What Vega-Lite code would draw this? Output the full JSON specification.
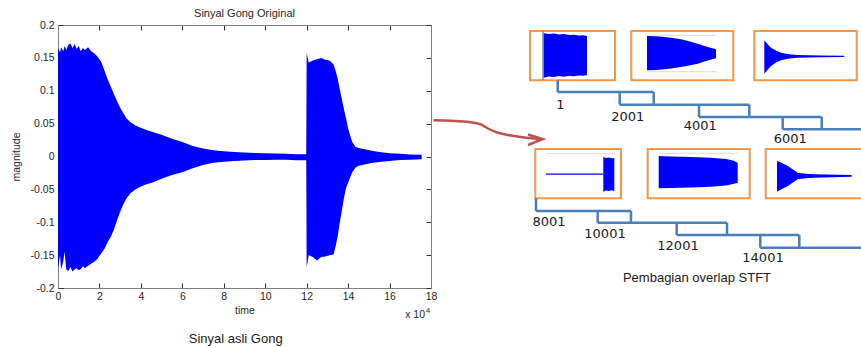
{
  "$schema": "https://vega.github.io/schema/vega-lite/v6.json",
  "background": "white",
  "padding": {"left": 11, "top": 8, "right": 0, "bottom": 0},
  "spacing": -12,
  "config": {"view": {"stroke": null}, "font": "Liberation Sans"},
  "datasets": {
    "sig": [
      {"t": 0.0, "hi": 0.165, "lo": -0.17},
      {"t": 0.1, "hi": 0.158, "lo": -0.15},
      {"t": 0.15, "hi": 0.166, "lo": -0.172},
      {"t": 0.25, "hi": 0.16, "lo": -0.16},
      {"t": 0.32, "hi": 0.168, "lo": -0.145},
      {"t": 0.4, "hi": 0.162, "lo": -0.172},
      {"t": 0.5, "hi": 0.17, "lo": -0.174},
      {"t": 0.6, "hi": 0.172, "lo": -0.168},
      {"t": 0.7, "hi": 0.165, "lo": -0.175},
      {"t": 0.8, "hi": 0.171, "lo": -0.172},
      {"t": 0.9, "hi": 0.164, "lo": -0.17},
      {"t": 1.0, "hi": 0.168, "lo": -0.173},
      {"t": 1.1, "hi": 0.16, "lo": -0.171},
      {"t": 1.2, "hi": 0.165, "lo": -0.167},
      {"t": 1.3, "hi": 0.162, "lo": -0.17},
      {"t": 1.45, "hi": 0.166, "lo": -0.166},
      {"t": 1.6, "hi": 0.16, "lo": -0.163},
      {"t": 1.75, "hi": 0.157, "lo": -0.16},
      {"t": 1.9, "hi": 0.152, "lo": -0.156},
      {"t": 2.0, "hi": 0.148, "lo": -0.151},
      {"t": 2.1, "hi": 0.143, "lo": -0.147},
      {"t": 2.25, "hi": 0.13, "lo": -0.14},
      {"t": 2.4, "hi": 0.117, "lo": -0.13},
      {"t": 2.55, "hi": 0.106, "lo": -0.122},
      {"t": 2.7, "hi": 0.095, "lo": -0.111},
      {"t": 2.85, "hi": 0.084, "lo": -0.097},
      {"t": 3.0, "hi": 0.074, "lo": -0.084},
      {"t": 3.15, "hi": 0.066, "lo": -0.073},
      {"t": 3.3, "hi": 0.058, "lo": -0.064},
      {"t": 3.5, "hi": 0.052, "lo": -0.056},
      {"t": 3.7, "hi": 0.048, "lo": -0.051},
      {"t": 3.9, "hi": 0.045, "lo": -0.047},
      {"t": 4.2, "hi": 0.041, "lo": -0.043},
      {"t": 4.6, "hi": 0.037, "lo": -0.039},
      {"t": 5.0, "hi": 0.033, "lo": -0.034},
      {"t": 5.5, "hi": 0.027, "lo": -0.028},
      {"t": 6.0, "hi": 0.022, "lo": -0.024},
      {"t": 6.5, "hi": 0.016, "lo": -0.018},
      {"t": 7.0, "hi": 0.012, "lo": -0.013},
      {"t": 7.5, "hi": 0.0095, "lo": -0.0095},
      {"t": 8.0, "hi": 0.008, "lo": -0.008},
      {"t": 8.5, "hi": 0.0068, "lo": -0.007},
      {"t": 9.0, "hi": 0.006, "lo": -0.006},
      {"t": 9.5, "hi": 0.0052, "lo": -0.0055},
      {"t": 10.0, "hi": 0.0048, "lo": -0.0052},
      {"t": 10.5, "hi": 0.0044, "lo": -0.0049},
      {"t": 11.0, "hi": 0.004, "lo": -0.005},
      {"t": 11.5, "hi": 0.0036, "lo": -0.0056},
      {"t": 11.98, "hi": 0.0033, "lo": -0.0058},
      {"t": 12.0, "hi": 0.158, "lo": -0.168},
      {"t": 12.05, "hi": 0.15, "lo": -0.16},
      {"t": 12.1, "hi": 0.143, "lo": -0.15},
      {"t": 12.3, "hi": 0.146, "lo": -0.153},
      {"t": 12.5, "hi": 0.148, "lo": -0.158},
      {"t": 12.7, "hi": 0.15, "lo": -0.153},
      {"t": 12.9, "hi": 0.147, "lo": -0.152},
      {"t": 13.1, "hi": 0.146, "lo": -0.15},
      {"t": 13.3, "hi": 0.14, "lo": -0.149},
      {"t": 13.4, "hi": 0.13, "lo": -0.136},
      {"t": 13.5, "hi": 0.118, "lo": -0.121},
      {"t": 13.6, "hi": 0.102, "lo": -0.1},
      {"t": 13.7, "hi": 0.087, "lo": -0.082},
      {"t": 13.8, "hi": 0.072, "lo": -0.063},
      {"t": 13.9, "hi": 0.058, "lo": -0.048},
      {"t": 14.0, "hi": 0.043, "lo": -0.04},
      {"t": 14.1, "hi": 0.032, "lo": -0.032},
      {"t": 14.2, "hi": 0.022, "lo": -0.024},
      {"t": 14.35, "hi": 0.015, "lo": -0.017},
      {"t": 14.5, "hi": 0.013, "lo": -0.014},
      {"t": 14.8, "hi": 0.011, "lo": -0.012},
      {"t": 15.2, "hi": 0.0085, "lo": -0.0095},
      {"t": 15.6, "hi": 0.0065, "lo": -0.008},
      {"t": 16.0, "hi": 0.005, "lo": -0.0068},
      {"t": 16.5, "hi": 0.004, "lo": -0.0055},
      {"t": 17.0, "hi": 0.0032, "lo": -0.0048},
      {"t": 17.55, "hi": 0.0025, "lo": -0.0043}
    ],
    "boxes": [
      {"x1": 529, "x2": 614, "y1": 30, "y2": 79.3},
      {"x1": 630.3, "x2": 732.3, "y1": 30, "y2": 79.3},
      {"x1": 753.3, "x2": 855.7, "y1": 30, "y2": 79.3},
      {"x1": 534.3, "x2": 620, "y1": 148, "y2": 197.3},
      {"x1": 646.7, "x2": 748.7, "y1": 148, "y2": 197.3},
      {"x1": 764.7, "x2": 875, "y1": 148, "y2": 197.3}
    ],
    "glines": [
      {"x1": 542, "x2": 542, "y1": 30.5, "y2": 79, "c": "dark"},
      {"x1": 646, "x2": 715, "y1": 34.3, "y2": 34.3, "c": "light"},
      {"x1": 646, "x2": 715, "y1": 70.7, "y2": 70.7, "c": "light"},
      {"x1": 545, "x2": 614, "y1": 152.5, "y2": 152.5, "c": "light"},
      {"x1": 658, "x2": 737, "y1": 152.3, "y2": 152.3, "c": "light"}
    ],
    "waves": [
      {"g": 1, "x": 542.7, "hi": 32.3, "lo": 76.7},
      {"g": 1, "x": 548, "hi": 33, "lo": 75.5},
      {"g": 1, "x": 553, "hi": 32.5, "lo": 76},
      {"g": 1, "x": 558, "hi": 33.5, "lo": 75},
      {"g": 1, "x": 563, "hi": 33, "lo": 75.8},
      {"g": 1, "x": 568, "hi": 34, "lo": 74.8},
      {"g": 1, "x": 573, "hi": 33.8, "lo": 75.2},
      {"g": 1, "x": 578, "hi": 34.5, "lo": 74.5},
      {"g": 1, "x": 582, "hi": 34.2, "lo": 74.8},
      {"g": 1, "x": 586, "hi": 35, "lo": 74.3},
      {"g": 2, "x": 646, "hi": 35, "lo": 69.3},
      {"g": 2, "x": 655, "hi": 35.3, "lo": 69},
      {"g": 2, "x": 663.3, "hi": 36, "lo": 68.3},
      {"g": 2, "x": 672, "hi": 37, "lo": 67.2},
      {"g": 2, "x": 680, "hi": 38.3, "lo": 66},
      {"g": 2, "x": 688, "hi": 40.3, "lo": 64.5},
      {"g": 2, "x": 696.7, "hi": 42.7, "lo": 62.7},
      {"g": 2, "x": 705, "hi": 45.5, "lo": 60},
      {"g": 2, "x": 715, "hi": 48.3, "lo": 57.3},
      {"g": 3, "x": 763.3, "hi": 39.3, "lo": 72.7},
      {"g": 3, "x": 766, "hi": 42.5, "lo": 69.5},
      {"g": 3, "x": 770, "hi": 46.7, "lo": 65},
      {"g": 3, "x": 775, "hi": 49.5, "lo": 61.5},
      {"g": 3, "x": 780, "hi": 51.7, "lo": 59.3},
      {"g": 3, "x": 788, "hi": 53.2, "lo": 57.5},
      {"g": 3, "x": 796.7, "hi": 54, "lo": 56.7},
      {"g": 3, "x": 820, "hi": 54.5, "lo": 56.2},
      {"g": 3, "x": 843.3, "hi": 54.7, "lo": 56},
      {"g": 4, "x": 602.3, "hi": 156, "lo": 190.7},
      {"g": 4, "x": 605, "hi": 157, "lo": 189.5},
      {"g": 4, "x": 608, "hi": 156.5, "lo": 190},
      {"g": 4, "x": 611, "hi": 157.3, "lo": 189.3},
      {"g": 4, "x": 613.3, "hi": 157, "lo": 190},
      {"g": 5, "x": 657.7, "hi": 155, "lo": 187.3},
      {"g": 5, "x": 670, "hi": 155.5, "lo": 187},
      {"g": 5, "x": 690, "hi": 156, "lo": 186.5},
      {"g": 5, "x": 710, "hi": 156.7, "lo": 185.7},
      {"g": 5, "x": 725, "hi": 158, "lo": 184.5},
      {"g": 5, "x": 732, "hi": 159.5, "lo": 183},
      {"g": 5, "x": 736.7, "hi": 161.7, "lo": 181.7},
      {"g": 6, "x": 776, "hi": 160, "lo": 190.7},
      {"g": 6, "x": 780, "hi": 161.5, "lo": 188.5},
      {"g": 6, "x": 786.7, "hi": 165, "lo": 185},
      {"g": 6, "x": 792, "hi": 168.5, "lo": 181.5},
      {"g": 6, "x": 796.7, "hi": 171.7, "lo": 178.3},
      {"g": 6, "x": 805, "hi": 172.8, "lo": 177.2},
      {"g": 6, "x": 813.3, "hi": 173.3, "lo": 176.7},
      {"g": 6, "x": 850.7, "hi": 174, "lo": 175.8},
      {"g": 7, "x": 545, "hi": 172.4, "lo": 173.7},
      {"g": 7, "x": 602.3, "hi": 172.4, "lo": 173.7}
    ],
    "stairs": [
      {"x1": 556.7, "x2": 556.7, "y1": 79.3, "y2": 91},
      {"x1": 556.7, "x2": 652.7, "y1": 91, "y2": 91},
      {"x1": 618.7, "x2": 618.7, "y1": 91, "y2": 103.7},
      {"x1": 652.7, "x2": 652.7, "y1": 91, "y2": 103.7},
      {"x1": 618.7, "x2": 748.3, "y1": 103.7, "y2": 103.7},
      {"x1": 698, "x2": 698, "y1": 103.7, "y2": 116},
      {"x1": 748.3, "x2": 748.3, "y1": 103.7, "y2": 116},
      {"x1": 698, "x2": 820.7, "y1": 116, "y2": 116},
      {"x1": 781.7, "x2": 781.7, "y1": 116, "y2": 128.3},
      {"x1": 820.7, "x2": 820.7, "y1": 116, "y2": 128.3},
      {"x1": 781.7, "x2": 870, "y1": 128.3, "y2": 128.3},
      {"x1": 535, "x2": 535, "y1": 197.3, "y2": 210},
      {"x1": 535, "x2": 630, "y1": 210, "y2": 210},
      {"x1": 596.7, "x2": 596.7, "y1": 210, "y2": 221.7},
      {"x1": 630, "x2": 630, "y1": 210, "y2": 221.7},
      {"x1": 596.7, "x2": 726, "y1": 221.7, "y2": 221.7},
      {"x1": 675.7, "x2": 675.7, "y1": 221.7, "y2": 234},
      {"x1": 726, "x2": 726, "y1": 221.7, "y2": 234},
      {"x1": 675.7, "x2": 798.3, "y1": 234, "y2": 234},
      {"x1": 759.3, "x2": 759.3, "y1": 234, "y2": 246.7},
      {"x1": 798.3, "x2": 798.3, "y1": 234, "y2": 246.7},
      {"x1": 759.3, "x2": 870, "y1": 246.7, "y2": 246.7}
    ],
    "labels": [
      {"label": "1", "x": 559.3, "y": 104},
      {"label": "2001", "x": 626.7, "y": 116},
      {"label": "4001", "x": 699.3, "y": 125},
      {"label": "6001", "x": 789.3, "y": 138.3},
      {"label": "8001", "x": 548, "y": 221},
      {"label": "10001", "x": 604, "y": 233},
      {"label": "12001", "x": 677, "y": 245},
      {"label": "14001", "x": 762, "y": 257}
    ],
    "arrow": [
      {"i": 1, "x": 432.5, "y": 119.3},
      {"i": 2, "x": 450, "y": 119.8},
      {"i": 3, "x": 468, "y": 121},
      {"i": 4, "x": 480, "y": 123.5},
      {"i": 5, "x": 488, "y": 128},
      {"i": 6, "x": 497, "y": 131.8},
      {"i": 7, "x": 510, "y": 134.5},
      {"i": 8, "x": 525, "y": 136.8},
      {"i": 9, "x": 540, "y": 138}
    ],
    "head": [
      {"i": 1, "x": 527, "y": 133.5},
      {"i": 2, "x": 541.7, "y": 138.2},
      {"i": 3, "x": 527, "y": 144}
    ]
  },
  "hconcat": [
    {
      "width": 373,
      "height": 263,
      "title": {"text": "Sinyal Gong Original", "fontSize": 11, "font": "Liberation Sans", "fontWeight": "normal", "color": "#262626", "offset": 1},
      "layer": [
        {
          "data": {"name": "sig"},
          "mark": {"type": "area", "color": "#0000ff", "opacity": 1},
          "encoding": {
            "x": {"field": "t", "type": "quantitative", "scale": {"domain": [0, 18], "nice": false, "zero": false},
              "axis": {"orient": "bottom", "values": [0, 2, 4, 6, 8, 10, 12, 14, 16, 18], "format": "d", "grid": false,
                "tickSize": -5, "labelPadding": 8, "domainColor": "#7f7f7f", "tickColor": "#333333",
                "labelFont": "Liberation Sans", "labelFontSize": 10.5, "labelColor": "#262626", "labelFlush": false,
                "title": "time", "titleFont": "Liberation Sans", "titleFontSize": 10.5, "titleFontWeight": "normal", "titleColor": "#262626", "titlePadding": 4}},
            "y": {"field": "hi", "type": "quantitative", "scale": {"domain": [-0.2, 0.2], "nice": false, "zero": false},
              "axis": {"orient": "left", "values": [-0.2, -0.15, -0.1, -0.05, 0, 0.05, 0.1, 0.15, 0.2], "labelExpr": "replace(format(datum.value, '.2~f'), '\u2212', '-')", "grid": false,
                "tickSize": -5, "labelPadding": 9, "domainColor": "#7f7f7f", "tickColor": "#333333",
                "labelFont": "Liberation Sans", "labelFontSize": 10.5, "labelColor": "#262626", "labelFlush": false,
                "title": "magnitude", "titleFont": "Liberation Sans", "titleFontSize": 10.5, "titleFontWeight": "normal", "titleColor": "#262626", "titlePadding": 9}},
            "y2": {"field": "lo"}
          }
        },
        {
          "data": {"name": "sig"},
          "mark": {"type": "point", "opacity": 0},
          "encoding": {
            "x": {"field": "t", "type": "quantitative", "scale": {"domain": [0, 18], "nice": false, "zero": false},
              "axis": {"orient": "top", "values": [0, 2, 4, 6, 8, 10, 12, 14, 16, 18], "labels": false, "title": null, "grid": false, "tickSize": -5, "domainColor": "#7f7f7f", "tickColor": "#333333"}},
            "y": {"field": "hi", "type": "quantitative", "scale": {"domain": [-0.2, 0.2], "nice": false, "zero": false},
              "axis": {"orient": "right", "values": [-0.2, -0.15, -0.1, -0.05, 0, 0.05, 0.1, 0.15, 0.2], "labels": false, "title": null, "grid": false, "tickSize": -5, "domainColor": "#7f7f7f", "tickColor": "#333333"}}
          }
        },
        {
          "data": {"values": [{}]},
          "mark": {"type": "text", "text": "x 10", "align": "right", "baseline": "middle", "fontSize": 10.5, "font": "Liberation Sans", "color": "#262626"},
          "encoding": {
            "x": {"datum": 17.71, "type": "quantitative", "axis": null},
            "y": {"datum": -0.2415, "type": "quantitative", "axis": null}
          }
        },
        {
          "data": {"values": [{}]},
          "mark": {"type": "text", "text": "4", "align": "center", "baseline": "middle", "fontSize": 7.5, "font": "Liberation Sans", "color": "#262626"},
          "encoding": {
            "x": {"datum": 17.86, "type": "quantitative", "axis": null},
            "y": {"datum": -0.235, "type": "quantitative", "axis": null}
          }
        },
        {
          "data": {"values": [{}]},
          "mark": {"type": "text", "text": "Sinyal asli Gong", "align": "center", "baseline": "middle", "fontSize": 13, "font": "Liberation Sans", "color": "#1a1a1a"},
          "encoding": {
            "x": {"datum": 8.575, "type": "quantitative", "axis": null},
            "y": {"datum": -0.2771, "type": "quantitative", "axis": null}
          }
        }
      ],
      "resolve": {"axis": {"x": "independent", "y": "independent"}}
    },
    {
      "width": 425,
      "height": 323,
      "view": {"stroke": null},
      "layer": [
        {
          "data": {"name": "boxes"},
          "mark": {"type": "rect", "fill": "white", "stroke": "#f79646", "strokeWidth": 2, "clip": true},
          "encoding": {
            "x": {"field": "x1", "type": "quantitative", "scale": {"domain": [436, 861], "nice": false, "zero": false}, "axis": null},
            "x2": {"field": "x2"},
            "y": {"field": "y1", "type": "quantitative", "scale": {"domain": [24, 347], "nice": false, "zero": false, "reverse": true}, "axis": null},
            "y2": {"field": "y2"}
          }
        },
        {
          "data": {"name": "glines"},
          "mark": {"type": "rule", "strokeWidth": 1},
          "encoding": {
            "x": {"field": "x1", "type": "quantitative", "scale": {"domain": [436, 861], "nice": false, "zero": false}, "axis": null},
            "x2": {"field": "x2"},
            "y": {"field": "y1", "type": "quantitative", "scale": {"domain": [24, 347], "nice": false, "zero": false, "reverse": true}, "axis": null},
            "y2": {"field": "y2"},
            "color": {"field": "c", "type": "nominal", "scale": {"domain": ["dark", "light"], "range": ["#555555", "#dddddd"]}, "legend": null}
          }
        },
        {
          "data": {"name": "waves"},
          "mark": {"type": "area", "color": "#0000ff", "opacity": 1},
          "encoding": {
            "x": {"field": "x", "type": "quantitative", "scale": {"domain": [436, 861], "nice": false, "zero": false}, "axis": null},
            "y": {"field": "hi", "type": "quantitative", "scale": {"domain": [24, 347], "nice": false, "zero": false, "reverse": true}, "axis": null},
            "y2": {"field": "lo"},
            "detail": {"field": "g", "type": "nominal"}
          }
        },
        {
          "data": {"name": "stairs"},
          "mark": {"type": "rule", "color": "#4a7ebb", "strokeWidth": 2.5, "clip": true},
          "encoding": {
            "x": {"field": "x1", "type": "quantitative", "scale": {"domain": [436, 861], "nice": false, "zero": false}, "axis": null},
            "x2": {"field": "x2"},
            "y": {"field": "y1", "type": "quantitative", "scale": {"domain": [24, 347], "nice": false, "zero": false, "reverse": true}, "axis": null},
            "y2": {"field": "y2"}
          }
        },
        {
          "data": {"name": "labels"},
          "mark": {"type": "text", "font": "DejaVu Sans", "fontSize": 13, "color": "#1a1a1a", "align": "center", "baseline": "middle"},
          "encoding": {
            "x": {"field": "x", "type": "quantitative", "scale": {"domain": [436, 861], "nice": false, "zero": false}, "axis": null},
            "y": {"field": "y", "type": "quantitative", "scale": {"domain": [24, 347], "nice": false, "zero": false, "reverse": true}, "axis": null},
            "text": {"field": "label"}
          }
        },
        {
          "data": {"values": [{}]},
          "mark": {"type": "text", "text": "Pembagian overlap STFT", "font": "Liberation Sans", "fontSize": 13, "color": "#1a1a1a", "align": "center", "baseline": "middle"},
          "encoding": {
            "x": {"datum": 696, "type": "quantitative", "scale": {"domain": [436, 861], "nice": false, "zero": false}, "axis": null},
            "y": {"datum": 277.3, "type": "quantitative", "scale": {"domain": [24, 347], "nice": false, "zero": false, "reverse": true}, "axis": null}
          }
        },
        {
          "data": {"name": "arrow"},
          "mark": {"type": "line", "color": "#c0504d", "strokeWidth": 2.5, "interpolate": "monotone"},
          "encoding": {
            "x": {"field": "x", "type": "quantitative", "scale": {"domain": [436, 861], "nice": false, "zero": false}, "axis": null},
            "y": {"field": "y", "type": "quantitative", "scale": {"domain": [24, 347], "nice": false, "zero": false, "reverse": true}, "axis": null},
            "order": {"field": "i"}
          }
        },
        {
          "data": {"name": "head"},
          "mark": {"type": "line", "color": "#c0504d", "strokeWidth": 2.5, "strokeJoin": "miter"},
          "encoding": {
            "x": {"field": "x", "type": "quantitative", "scale": {"domain": [436, 861], "nice": false, "zero": false}, "axis": null},
            "y": {"field": "y", "type": "quantitative", "scale": {"domain": [24, 347], "nice": false, "zero": false, "reverse": true}, "axis": null},
            "order": {"field": "i"}
          }
        }
      ]
    }
  ]
}
